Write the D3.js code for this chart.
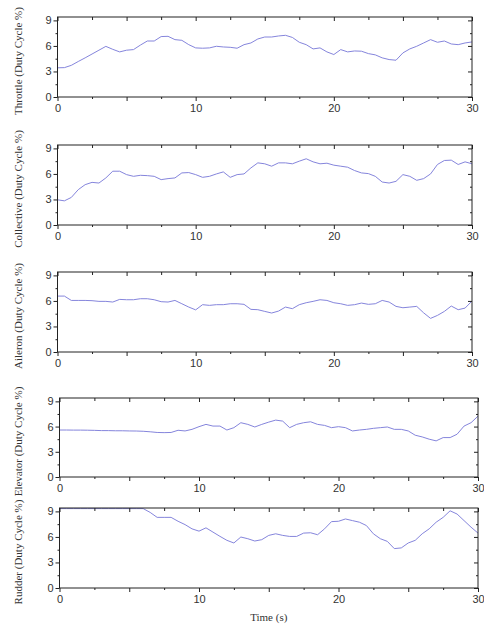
<!DOCTYPE html>
<html>
<head>
<meta charset="utf-8">
<script src="https://cdn.jsdelivr.net/npm/d3@7"></script>
<style>
  body { margin: 0; background: #fff; }
</style>
</head>
<body>
<div id="chart"></div>
<script>
// sample times (s)
var time = [0, 0.5, 1, 1.5, 2, 2.5, 3, 3.5, 4, 4.5, 5, 5.5, 6, 6.5, 7, 7.5, 8, 8.5, 9, 9.5,
            10, 10.5, 11, 11.5, 12, 12.5, 13, 13.5, 14, 14.5, 15, 15.5, 16, 16.5, 17, 17.5, 18, 18.5, 19, 19.5,
            20, 20.5, 21, 21.5, 22, 22.5, 23, 23.5, 24, 24.5, 25, 25.5, 26, 26.5, 27, 27.5, 28, 28.5, 29, 29.5, 30];

// duty cycle (%)
var throttle = [3.43, 3.45, 3.72, 4.17, 4.6, 5.05, 5.5, 5.95, 5.6, 5.3, 5.5, 5.57, 6.1, 6.58, 6.58, 7.1, 7.13, 6.74, 6.66, 6.15,
                5.77, 5.73, 5.77, 5.96, 5.88, 5.84, 5.73, 6.15, 6.35, 6.82, 7.05, 7.05, 7.17, 7.25, 7.0, 6.43, 6.15, 5.65, 5.77, 5.3,
                4.99, 5.57, 5.3, 5.41, 5.38, 5.1, 4.95, 4.6, 4.4, 4.32, 5.18, 5.65, 5.96, 6.35, 6.74, 6.43, 6.58, 6.23, 6.15, 6.35, 6.47];

var collective = [2.96, 2.84, 3.24, 4.15, 4.74, 5.01, 4.93, 5.53, 6.32, 6.32, 5.92, 5.72, 5.84, 5.8, 5.72, 5.33, 5.45, 5.53, 6.12, 6.16,
                  5.92, 5.6, 5.72, 6.0, 6.24, 5.6, 5.92, 6.0, 6.71, 7.3, 7.19, 6.91, 7.3, 7.3, 7.19, 7.5, 7.78, 7.42, 7.19, 7.26,
                  7.03, 6.91, 6.79, 6.4, 6.12, 6.04, 5.72, 5.05, 4.93, 5.13, 5.92, 5.72, 5.25, 5.45, 6.0, 7.11, 7.58, 7.62, 7.11, 7.42, 7.19];

var aileron = [6.57, 6.57, 6.06, 6.06, 6.06, 6.03, 5.95, 5.95, 5.87, 6.18, 6.14, 6.14, 6.26, 6.26, 6.14, 5.91, 5.87, 6.06, 5.67, 5.28,
               4.95, 5.56, 5.48, 5.56, 5.56, 5.67, 5.67, 5.6, 5.01, 4.97, 4.77, 4.58, 4.81, 5.28, 5.09, 5.56, 5.79, 5.95, 6.14, 6.06,
               5.79, 5.67, 5.48, 5.56, 5.75, 5.6, 5.67, 6.06, 5.87, 5.36, 5.2, 5.28, 5.36, 4.6, 3.95, 4.3, 4.77, 5.4, 4.97, 5.16, 5.99];

var elevator = [5.59, 5.59, 5.58, 5.58, 5.57, 5.55, 5.52, 5.52, 5.5, 5.5, 5.48, 5.47, 5.44, 5.38, 5.3, 5.28, 5.3, 5.56, 5.48, 5.67,
                5.99, 6.26, 6.06, 6.06, 5.59, 5.87, 6.46, 6.26, 5.95, 6.26, 6.53, 6.77, 6.65, 5.87, 6.26, 6.46, 6.57, 6.26, 6.14, 5.87,
                5.99, 5.87, 5.48, 5.59, 5.67, 5.79, 5.87, 5.95, 5.67, 5.67, 5.48, 4.97, 4.77, 4.5, 4.3, 4.69, 4.69, 5.09, 6.06, 6.46, 7.24];

var rudder = [9.33, 9.33, 9.33, 9.33, 9.33, 9.33, 9.33, 9.33, 9.33, 9.33, 9.33, 9.33, 9.33, 8.88, 8.3, 8.3, 8.3, 7.84, 7.45, 6.95,
              6.68, 7.07, 6.57, 6.07, 5.6, 5.29, 5.99, 5.79, 5.52, 5.68, 6.18, 6.37, 6.18, 6.06, 6.06, 6.45, 6.49, 6.26, 6.95, 7.8,
              7.84, 8.11, 7.92, 7.73, 7.34, 6.37, 5.79, 5.48, 4.63, 4.71, 5.29, 5.6, 6.37, 6.95, 7.73, 8.3, 9.07, 8.69, 7.92, 7.15, 6.45];

var labels = ["Throttle (Duty Cycle %)", "Collective (Duty Cycle %)", "Aileron (Duty Cycle %)",
              "Elevator (Duty Cycle %)", "Rudder (Duty Cycle %)"];
var series = [throttle, collective, aileron, elevator, rudder];

var yMajor = [0, 3, 6, 9];
var yMinor = [1.5, 4.5, 7.5];
var xMajor = [0, 5, 10, 15, 20, 25, 30];
var xMinor = [2.5, 7.5, 12.5, 17.5, 22.5, 27.5];

// panel boxes: [left, right, top, bottom]
var boxes = [
    [57.5, 472, 17, 97],
    [57.5, 472, 145, 225],
    [57.5, 472, 272, 352],
    [59.5, 478, 398, 477],
    [59.5, 478, 508, 588]
];

var width = 484;
var height = 632;

var svg = d3.select("#chart")
    .append("svg")
    .attr("width", width)
    .attr("height", height);

function styleAxis(g) {
    g.select(".domain").remove();
    g.selectAll(".tick line").attr("stroke", "#222").attr("stroke-width", 1);
    g.selectAll(".tick text")
        .attr("fill", "#333")
        .style("font-family", "'Liberation Sans', Arial, sans-serif")
        .style("font-size", "11px");
}

series.forEach(function (vals, i) {
    var b = boxes[i];
    var x = d3.scaleLinear().domain([0, 30]).range([b[0], b[1]]);
    var y = d3.scaleLinear().domain([0, 9.4]).range([b[3], b[2]]);
    var g = svg.append("g");

    var line = d3.line()
        .x(function (d, k) { return x(time[k]); })
        .y(function (d) { return y(d); });

    g.append("path")
        .datum(vals)
        .attr("d", line)
        .attr("fill", "none")
        .attr("stroke", "#8585dc")
        .attr("stroke-width", 1);

    // left axis, ticks out
    g.append("g").attr("transform", "translate(" + b[0] + ",0)")
        .call(d3.axisLeft(y).tickValues(yMajor).tickSize(4).tickPadding(2).tickFormat(d3.format("d")))
        .call(styleAxis);
    g.append("g").attr("transform", "translate(" + b[0] + ",0)")
        .call(d3.axisLeft(y).tickValues(yMinor).tickSize(2).tickFormat(""))
        .call(styleAxis);
    // right axis, ticks in
    g.append("g").attr("transform", "translate(" + b[1] + ",0)")
        .call(d3.axisRight(y).tickValues(yMajor).tickSize(-4).tickFormat(""))
        .call(styleAxis);
    g.append("g").attr("transform", "translate(" + b[1] + ",0)")
        .call(d3.axisRight(y).tickValues(yMinor).tickSize(-2).tickFormat(""))
        .call(styleAxis);
    // bottom axis, ticks out
    g.append("g").attr("transform", "translate(0," + b[3] + ")")
        .call(d3.axisBottom(x).tickValues(xMajor).tickSize(4).tickPadding(3)
            .tickFormat(function (d) { return d % 10 === 0 ? d : ""; }))
        .call(styleAxis);
    g.append("g").attr("transform", "translate(0," + b[3] + ")")
        .call(d3.axisBottom(x).tickValues(xMinor).tickSize(2).tickFormat(""))
        .call(styleAxis);
    // top axis, ticks in
    g.append("g").attr("transform", "translate(0," + b[2] + ")")
        .call(d3.axisTop(x).tickValues(xMajor).tickSize(-4).tickFormat(""))
        .call(styleAxis);
    g.append("g").attr("transform", "translate(0," + b[2] + ")")
        .call(d3.axisTop(x).tickValues(xMinor).tickSize(-3).tickFormat(""))
        .call(styleAxis);

    // frame
    g.append("rect")
        .attr("x", b[0]).attr("y", b[2])
        .attr("width", b[1] - b[0]).attr("height", b[3] - b[2])
        .attr("fill", "none")
        .attr("stroke", "#222")
        .attr("stroke-width", 1);

    g.append("text")
        .attr("transform", "translate(22," + ((b[2] + b[3]) / 2 + 4) + ") rotate(-90)")
        .attr("text-anchor", "middle")
        .attr("fill", "#333")
        .style("font-family", "'Liberation Serif', 'Times New Roman', serif")
        .style("font-size", "11px")
        .text(labels[i]);
});

svg.append("text")
    .attr("x", (boxes[4][0] + boxes[4][1]) / 2)
    .attr("y", 621)
    .attr("text-anchor", "middle")
    .attr("fill", "#333")
    .style("font-family", "'Liberation Serif', 'Times New Roman', serif")
    .style("font-size", "11px")
    .text("Time (s)");
</script>
</body>
</html>
